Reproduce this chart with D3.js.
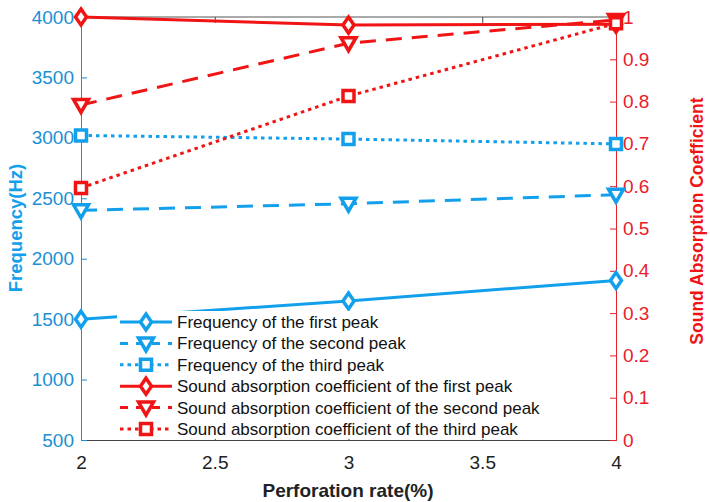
<!DOCTYPE html>
<html><head><meta charset="utf-8">
<script src="https://cdn.jsdelivr.net/npm/d3@7"></script>
<style>body{margin:0;background:#fff}svg{display:block;font-family:"Liberation Sans",Arial,sans-serif}</style>
</head><body><svg id="c" width="710" height="502"></svg>
<script>
const rates = [2, 3, 4];
const freqFirst = [1500, 1650, 1820];
const freqSecond = [2400, 2455, 2530];
const freqThird = [3020, 2990, 2950];
const absFirst = [1.0, 0.981, 0.983];
const absSecond = [0.792, 0.938, 0.993];
const absThird = [0.596, 0.813, 0.985];
const xTicks = [2, 2.5, 3, 3.5, 4];
const yLeftTicks = [500, 1000, 1500, 2000, 2500, 3000, 3500, 4000];
const yRightTicks = [0, 0.1, 0.2, 0.3, 0.4, 0.5, 0.6, 0.7, 0.8, 0.9, 1];
const legendLabels = ["Frequency of the first peak","Frequency of the second peak","Frequency of the third peak",
  "Sound absorption coefficient of the first peak","Sound absorption coefficient of the second peak","Sound absorption coefficient of the third peak"];

const BLUE = "#12a0ec", BLUEAX = "#1b8fd2", RED = "#f01414", REDAX = "#e8202a";
const L = 81, R = 616, T = 17, B = 440;
const svg = d3.select("#c");
const x = d3.scaleLinear().domain([2, 4]).range([L, R]);
const yL = d3.scaleLinear().domain([500, 4000]).range([B, T]);
const yR = d3.scaleLinear().domain([0, 1]).range([B, T]);

svg.append("line").attr("x1", L).attr("x2", R).attr("y1", T).attr("y2", T).attr("stroke", "#555").attr("stroke-width", 1);

const gx = svg.append("g").attr("transform", `translate(0,${B})`)
  .call(d3.axisBottom(x).tickValues(xTicks).tickSize(-6).tickPadding(16).tickFormat(d3.format("")));
gx.selectAll("path,line").attr("stroke", "#444");
gx.selectAll("text").attr("font-size", 19).attr("fill", "#222").attr("font-family", "Liberation Sans, Arial");
const gxt = svg.append("g").attr("transform", `translate(0,${T})`)
  .call(d3.axisTop(x).tickValues(xTicks).tickSize(-6).tickFormat(""));
gxt.select("path").remove();
gxt.selectAll("line").attr("stroke", "#444");

const gl = svg.append("g").attr("transform", `translate(${L},0)`)
  .call(d3.axisLeft(yL).tickValues(yLeftTicks).tickSize(-6).tickPadding(7).tickFormat(d3.format("d")));
gl.selectAll("path,line").attr("stroke", BLUEAX);
gl.selectAll("text").attr("font-size", 19).attr("fill", BLUEAX).attr("font-family", "Liberation Sans, Arial");

const gr = svg.append("g").attr("transform", `translate(${R},0)`)
  .call(d3.axisRight(yR).tickValues(yRightTicks).tickSize(-6).tickPadding(7).tickFormat(d => d3.format("")(+d.toFixed(1))));
gr.selectAll("path,line").attr("stroke", REDAX);
gr.selectAll("text").attr("font-size", 19).attr("fill", REDAX).attr("font-family", "Liberation Sans, Arial");

svg.append("text").attr("transform", `translate(22,228) rotate(-90)`).attr("text-anchor", "middle")
  .attr("font-weight", "bold").attr("font-size", 18.5).attr("fill", BLUE).text("Frequency(Hz)");
svg.append("text").attr("transform", `translate(703,221) rotate(-90)`).attr("text-anchor", "middle")
  .attr("font-weight", "bold").attr("font-size", 17.5).attr("fill", RED).text("Sound Absorption Coefficient");
svg.append("text").attr("x", 348).attr("y", 497).attr("text-anchor", "middle")
  .attr("font-weight", "bold").attr("font-size", 19).attr("fill", "#222").text("Perforation rate(%)");

const dashes = ["none", "16,10", "3.5,4"];
const shapes = ["diamond", "triangle", "square"];
function markerPath(s) {
  if (s === "diamond") return "M0,-8L5.5,0L0,8L-5.5,0Z";
  if (s === "triangle") return "M-7.5,-5.5L7.5,-5.5L0,7.5Z";
  return "M-5.5,-5.5L5.5,-5.5L5.5,5.5L-5.5,5.5Z";
}
const series = [
  {v: freqFirst, y: yL, c: BLUE, i: 0},
  {v: freqSecond, y: yL, c: BLUE, i: 1},
  {v: freqThird, y: yL, c: BLUE, i: 2},
  {v: absFirst, y: yR, c: RED, i: 0},
  {v: absSecond, y: yR, c: RED, i: 1},
  {v: absThird, y: yR, c: RED, i: 2}
];
series.forEach(s => {
  const line = d3.line().x((d, k) => x(rates[k])).y(d => s.y(d));
  svg.append("path").datum(s.v).attr("d", line).attr("fill", "none").attr("stroke", s.c)
    .attr("stroke-width", 3).attr("stroke-dasharray", dashes[s.i]);
  s.v.forEach((d, k) => {
    svg.append("path").attr("d", markerPath(shapes[s.i]))
      .attr("transform", `translate(${x(rates[k])},${s.y(d)})`)
      .attr("fill", "#fff").attr("stroke", s.c).attr("stroke-width", 3.5);
  });
});

const lg = svg.append("g");
lg.append("rect").attr("x", 117).attr("y", 311).attr("width", 440).attr("height", 128).attr("fill", "#fff");
series.forEach((s, j) => {
  const yy = 322 + j * 21.4;
  lg.append("line").attr("x1", 120).attr("x2", 172).attr("y1", yy).attr("y2", yy)
    .attr("stroke", s.c).attr("stroke-width", 3).attr("stroke-dasharray", s.i === 1 ? "8,8" : dashes[s.i]);
  lg.append("path").attr("d", markerPath(shapes[s.i])).attr("transform", `translate(146,${yy})`)
    .attr("fill", "#fff").attr("stroke", s.c).attr("stroke-width", 3.5);
  lg.append("text").attr("x", 177).attr("y", yy + 6).attr("font-size", 17).attr("fill", "#111").text(legendLabels[j]);
});
</script></body></html>
